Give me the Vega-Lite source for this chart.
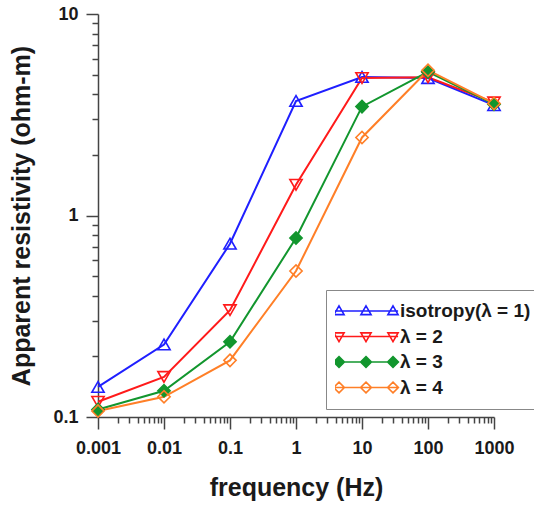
{
  "$schema": "https://vega.github.io/schema/vega-lite/v6.json",
  "width": 396,
  "height": 403,
  "autosize": "none",
  "padding": {"left": 98, "top": 14, "right": 40, "bottom": 90},
  "config": {
    "view": {"stroke": null},
    "font": "Liberation Sans",
    "axis": {
      "grid": false,
      "domainColor": "#444444",
      "domainWidth": 1.5,
      "tickColor": "#444444",
      "tickWidth": 1.5,
      "labelFont": "Liberation Sans",
      "labelFontWeight": "bold",
      "labelFontSize": 18,
      "labelColor": "#1a1a1a",
      "titleFont": "Liberation Sans",
      "titleFontWeight": "bold",
      "titleFontSize": 25,
      "titleColor": "#1a1a1a",
      "labelOverlap": false,
      "labelFlush": false
    }
  },
  "data": {
    "values": [
      {"freq": 0.001, "rho": 0.141, "series": "isotropy(λ = 1)"},
      {"freq": 0.01, "rho": 0.229, "series": "isotropy(λ = 1)"},
      {"freq": 0.1, "rho": 0.724, "series": "isotropy(λ = 1)"},
      {"freq": 1, "rho": 3.70, "series": "isotropy(λ = 1)"},
      {"freq": 10, "rho": 4.87, "series": "isotropy(λ = 1)"},
      {"freq": 100, "rho": 4.81, "series": "isotropy(λ = 1)"},
      {"freq": 1000, "rho": 3.53, "series": "isotropy(λ = 1)"},
      {"freq": 0.001, "rho": 0.119, "series": "λ = 2"},
      {"freq": 0.01, "rho": 0.158, "series": "λ = 2"},
      {"freq": 0.1, "rho": 0.339, "series": "λ = 2"},
      {"freq": 1, "rho": 1.42, "series": "λ = 2"},
      {"freq": 10, "rho": 4.81, "series": "λ = 2"},
      {"freq": 100, "rho": 4.85, "series": "λ = 2"},
      {"freq": 1000, "rho": 3.64, "series": "λ = 2"},
      {"freq": 0.001, "rho": 0.109, "series": "λ = 3"},
      {"freq": 0.01, "rho": 0.135, "series": "λ = 3"},
      {"freq": 0.1, "rho": 0.236, "series": "λ = 3"},
      {"freq": 1, "rho": 0.773, "series": "λ = 3"},
      {"freq": 10, "rho": 3.47, "series": "λ = 3"},
      {"freq": 100, "rho": 5.16, "series": "λ = 3"},
      {"freq": 1000, "rho": 3.57, "series": "λ = 3"},
      {"freq": 0.001, "rho": 0.107, "series": "λ = 4"},
      {"freq": 0.01, "rho": 0.126, "series": "λ = 4"},
      {"freq": 0.1, "rho": 0.191, "series": "λ = 4"},
      {"freq": 1, "rho": 0.530, "series": "λ = 4"},
      {"freq": 10, "rho": 2.44, "series": "λ = 4"},
      {"freq": 100, "rho": 5.26, "series": "λ = 4"},
      {"freq": 1000, "rho": 3.60, "series": "λ = 4"}
    ]
  },
  "encoding": {
    "x": {
      "field": "freq",
      "type": "quantitative",
      "scale": {"type": "log", "domain": [0.001, 1000]},
      "axis": {
        "title": "frequency (Hz)",
        "values": [0.001,0.002,0.003,0.004,0.005,0.006,0.007,0.008,0.009,0.01,0.02,0.03,0.04,0.05,0.06,0.07,0.08,0.09,0.1,0.2,0.3,0.4,0.5,0.6,0.7,0.8,0.9,1,2,3,4,5,6,7,8,9,10,20,30,40,50,60,70,80,90,100,200,300,400,500,600,700,800,900,1000],
        "format": "~g",
        "labelExpr": "indexof([0.001,0.01,0.1,1,10,100,1000], datum.value) >= 0 ? datum.label : ''",
        "tickSize": {"condition": {"test": "indexof([0.001,0.01,0.1,1,10,100,1000], datum.value) >= 0", "value": 12}, "value": 6},
        "labelPadding": 10,
        "titlePadding": 18
      }
    },
    "y": {
      "field": "rho",
      "type": "quantitative",
      "scale": {"type": "log", "domain": [0.1, 10]},
      "axis": {
        "title": "Apparent resistivity (ohm-m)",
        "values": [0.1,0.2,0.3,0.4,0.5,0.6,0.7,0.8,0.9,1,2,3,4,5,6,7,8,9,10],
        "format": "~g",
        "labelExpr": "indexof([0.1,1,10], datum.value) >= 0 ? datum.label : ''",
        "tickSize": {"condition": {"test": "indexof([0.1,1,10], datum.value) >= 0", "value": 12}, "value": 6},
        "labelPadding": 8,
        "titlePadding": 18
      }
    },
    "color": {
      "field": "series",
      "type": "nominal",
      "scale": {
        "domain": ["isotropy(λ = 1)", "λ = 2", "λ = 3", "λ = 4"],
        "range": ["#1f1fff", "#ff1a1a", "#12962e", "#ff7f27"]
      },
      "legend": {
        "title": null,
        "orient": "none",
        "legendX": 228,
        "legendY": 276,
        "fillColor": "white",
        "strokeColor": "#888888",
        "padding": 9,
        "symbolSize": 3600,
        "symbolStrokeWidth": 1.6,
        "clipHeight": 24,
        "rowPadding": 1.5,
        "labelFont": "Liberation Sans",
        "labelFontWeight": "bold",
        "labelFontSize": 19,
        "labelColor": "#1a1a1a",
        "labelOffset": 3,
        "encode": {
          "symbols": {
            "update": {
              "shape": {"signal": "datum.value === 'isotropy(λ = 1)' ? 'M-1.07,0L1.07,0M-0.9,-0.17L-0.73,0.12L-1.07,0.12ZM0,-0.17L0.17,0.12L-0.17,0.12ZM0.9,-0.17L1.07,0.12L0.73,0.12Z' : datum.value === 'λ = 2' ? 'M-1.07,0L1.07,0M-0.9,0.17L-0.73,-0.12L-1.07,-0.12ZM0,0.17L0.17,-0.12L-0.17,-0.12ZM0.9,0.17L1.07,-0.12L0.73,-0.12Z' : 'M-1.07,0L1.07,0M-0.9,-0.18L-0.72,0L-0.9,0.18L-1.08,0ZM0,-0.18L0.18,0L0,0.18L-0.18,0ZM0.9,-0.18L1.08,0L0.9,0.18L0.72,0Z'"},
              "fill": {"signal": "datum.value === 'λ = 3' ? '#12962e' : 'transparent'"}
            }
          }
        }
      }
    }
  },
  "layer": [
    {"mark": {"type": "line", "strokeWidth": 2}},
    {
      "transform": [{"filter": "datum.series === 'isotropy(λ = 1)'"}],
      "mark": {"type": "point", "shape": "triangle-up", "filled": false, "size": 150, "strokeWidth": 1.6, "opacity": 1}
    },
    {
      "transform": [{"filter": "datum.series === 'λ = 2'"}],
      "mark": {"type": "point", "shape": "triangle-down", "filled": false, "size": 150, "strokeWidth": 1.6, "opacity": 1}
    },
    {
      "transform": [{"filter": "datum.series === 'λ = 3'"}],
      "mark": {"type": "point", "shape": "diamond", "filled": false, "fill": "#12962e", "size": 150, "strokeWidth": 1.6, "opacity": 1}
    },
    {
      "transform": [{"filter": "datum.series === 'λ = 4'"}],
      "mark": {"type": "point", "shape": "diamond", "filled": false, "size": 150, "strokeWidth": 1.6, "opacity": 1}
    }
  ]
}
